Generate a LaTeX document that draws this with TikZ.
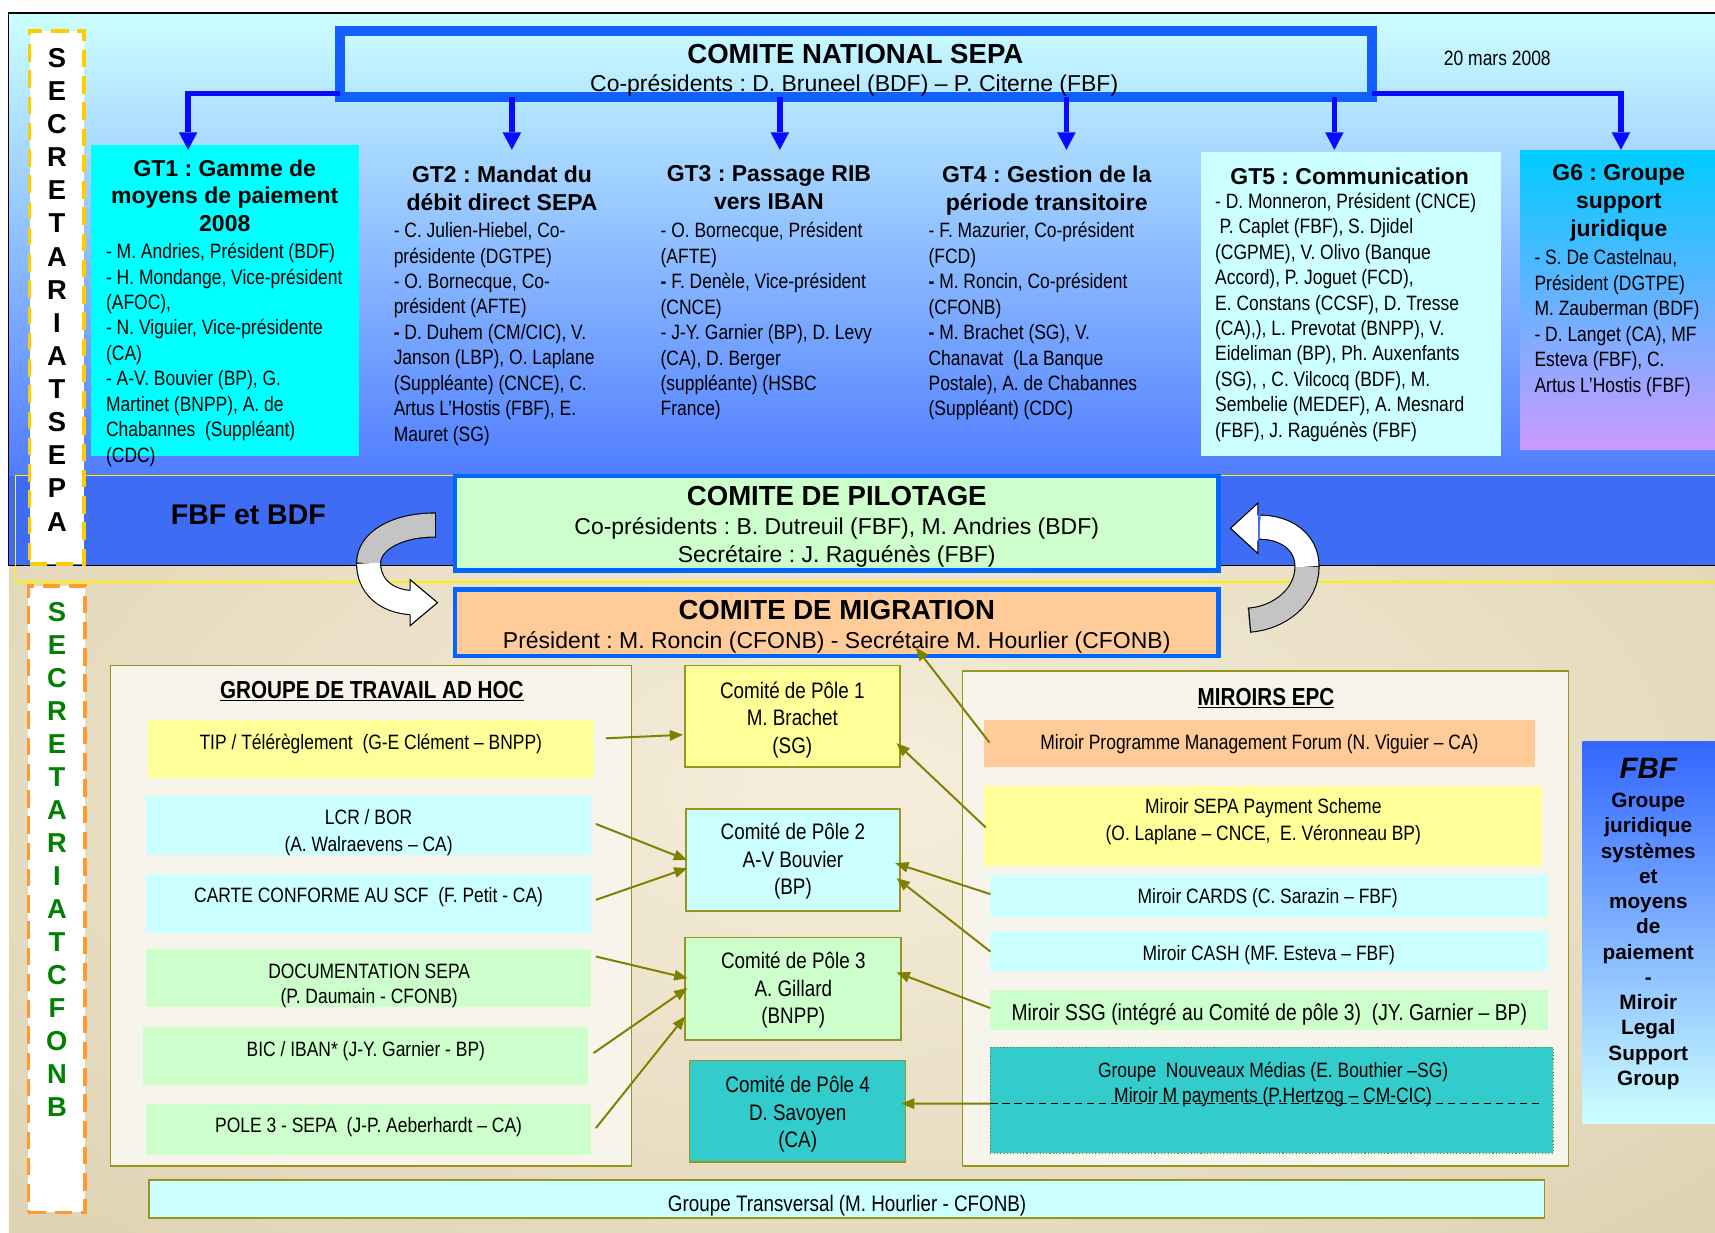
\documentclass[tikz,border=0pt]{standalone}
\usepackage{fontspec}
\setmainfont{Liberation Sans}
\newfontfamily\nar[FakeStretch=0.84]{Liberation Sans}
\usetikzlibrary{arrows.meta,calc}
\newcommand\fs[2]{\fontsize{#1}{#2}\selectfont}
\definecolor{cnsblue}{RGB}{20,95,255}
\definecolor{conblue}{RGB}{10,10,255}
\definecolor{pilblue}{RGB}{0,102,255}
\definecolor{cyanA}{RGB}{0,255,255}
\definecolor{lcyan}{RGB}{204,255,255}
\definecolor{lgreen}{RGB}{204,255,204}
\definecolor{peach}{RGB}{255,204,153}
\definecolor{lyellow}{RGB}{255,255,153}
\definecolor{teal2}{RGB}{51,204,204}
\definecolor{oliveb}{RGB}{150,150,30}
\definecolor{olivea}{RGB}{128,128,0}
\definecolor{tan1}{RGB}{212,199,160}
\definecolor{cream1}{RGB}{246,238,220}
\definecolor{skyA}{RGB}{204,255,255}
\definecolor{skyB}{RGB}{160,205,255}
\definecolor{skyC}{RGB}{80,125,255}
\definecolor{bandblue}{RGB}{62,108,245}
\definecolor{secyel}{RGB}{255,204,0}
\definecolor{secor}{RGB}{255,153,51}
\definecolor{secgreen}{RGB}{0,128,0}
\definecolor{arrgray}{RGB}{196,196,196}
\definecolor{g6top}{RGB}{0,204,255}
\definecolor{g6mid}{RGB}{160,195,255}
\definecolor{g6bot}{RGB}{204,153,255}
\definecolor{fbftop}{RGB}{51,102,255}
\definecolor{fbfmid}{RGB}{140,180,255}
\definecolor{fbfbot}{RGB}{204,255,255}
\definecolor{contfill}{RGB}{247,244,236}
\begin{document}
\frenchspacing
\begin{tikzpicture}[x=1pt,y=-1pt,
  T/.style={inner sep=0pt,outer sep=0pt,yshift=-3pt,execute at begin node=\strut,execute at end node=\strut},
  plain/.style={rectangle,inner sep=0pt,outer sep=0pt},
  bodyt/.style={T,anchor=north west,align=left,font=\nar\fs{19}{23.25}},
  gtt/.style={T,anchor=north,align=center,font=\bfseries\fs{21}{25.5}},
  n19/.style={inner sep=0pt,outer sep=0pt,anchor=base,font=\nar\fs{19}{23}},
  n21/.style={inner sep=0pt,outer sep=0pt,anchor=base,font=\fs{21}{25}},
  bigb/.style={inner sep=0pt,outer sep=0pt,anchor=base,font=\bfseries\fs{25.2}{30}},
  seca/.style={inner sep=0pt,outer sep=0pt,anchor=base,font=\bfseries\fs{25}{30}},
  olbox/.style={plain,draw=oliveb,line width=1.5pt},
  poletxt/.style={T,anchor=north,align=center,font=\nar\fs{20.5}{25.2}},
  bluearr/.style={draw=conblue,line width=5pt,-{Triangle[width=17pt,length=16pt,line width=0pt]}},
  oarr/.style={draw=olivea,line width=1.8pt,-{Triangle[width=10pt,length=12pt,line width=0pt]}},
  ctitle/.style={inner sep=0pt,outer sep=0pt,anchor=base,font=\nar\bfseries\fs{22.5}{27}}
]
\useasboundingbox (0,0) rectangle (1568,1127);

% ---------- backgrounds
\shade[top color=skyA, middle color=skyB, bottom color=skyC] (8,12) rectangle (1568,435);
\fill[bandblue] (8,435) rectangle (1568,517);
\begin{scope}
\clip (8,517) rectangle (1568,1127);
\shade[inner color=cream1, outer color=tan1] (-772,-79) rectangle (2348,1529);
\end{scope}
\draw[line width=1.2pt] (1568,12) -- (8,12) -- (8,517) -- (1568,517);
\draw[yellow, line width=1.3pt] (14,435) rectangle (1575,532);

% ---------- secretariat columns
\node[plain, fill=white, draw=secyel, line width=3.5pt, dash pattern=on 16pt off 8pt, minimum width=50pt, minimum height=487.7pt] (secA) at (52,271.85) {};
\foreach \l [count=\i from 0] in {S,E,C,R,E,T,A,R,I,A,T,S,E,P,A}
  \node[seca] (sa\i) at (52,{61.4+30.3*\i}) {\l};
\node[plain, fill=white, draw=secor, line width=3.5pt, dash pattern=on 16pt off 8pt, minimum width=52pt, minimum height=573pt] (secB) at (52,822) {};
\foreach \l [count=\i from 0] in {S,E,C,R,E,T,A,R,I,A,T,C,F,O,N,B}
  \node[seca, text=secgreen] (sb\i) at (52,{568+30.17*\i}) {\l};

% ---------- comite national
\node[plain, draw=cnsblue, line width=9pt, minimum width=943.5pt, minimum height=60.4pt] (cns) at (782.25,58.2) {};
\node[bigb] (cnst) at (782,58.1) {COMITE NATIONAL SEPA};
\node[n21] (cnss) at (781,83.5) {Co-présidents : D. Bruneel (BDF) – P. Citerne (FBF)};
\node[n19] (date) at (1369,59.8) {20 mars 2008};

% ---------- GT boxes
\node[plain, fill=cyanA, minimum width=245pt, minimum height=284pt] (gt1) at (205.5,275) {};
\node[plain, minimum width=200pt, minimum height=270pt, anchor=north] (gt2) at (468,137) {};
\node[plain, minimum width=200pt, minimum height=270pt, anchor=north] (gt3) at (713,137) {};
\node[plain, minimum width=200pt, minimum height=270pt, anchor=north] (gt4) at (975,137) {};
\node[plain, fill=lcyan, minimum width=274pt, minimum height=278pt] (gt5) at (1235,278) {};
\node[plain, top color=g6top, middle color=g6mid, bottom color=g6bot, minimum width=178pt, minimum height=273pt] (gt6) at (1479,274.5) {};

\coordinate (g1in) at ($(gt1.north west)+(89,4)$);
\coordinate (g5in) at ($(gt5.north)+(-15,-2)$);
\coordinate (g6in) at ($(gt6.north)+(3,-1)$);
\draw[bluearr] ($(cns.south west)+(0,-2.9)$) -| (g1in);
\draw[bluearr] ($(cns.south east)+(0,-2.9)$) -| (g6in);
\draw[bluearr] (cns.south -| gt2.north) -- (gt2.north);
\draw[bluearr] (cns.south -| gt3.north) -- (gt3.north);
\draw[bluearr] (cns.south -| gt4.north) -- (gt4.north);
\draw[bluearr] (cns.south -| g5in) -- (g5in);

\node[gtt] (gt1t) at (205.5,142.7) {GT1 : Gamme de\\moyens de paiement\\2008};
\node[bodyt] (gt1b) at (97,219.5) {- M. Andries, Président (BDF)\\- H. Mondange, Vice-président\\(AFOC),\\- N. Viguier, Vice-présidente\\(CA)\\- A-V. Bouvier (BP), G.\\Martinet (BNPP), A. de\\Chabannes\ \ (Suppléant)\\(CDC)};
\node[gtt] (gt2t) at (459,148.7) {GT2 : Mandat du\\débit direct SEPA};
\node[bodyt] (gt2b) at (360,200.5) {- C. Julien-Hiebel, Co-\\présidente (DGTPE)\\- O. Bornecque, Co-\\président (AFTE)\\\textbf{-} D. Duhem (CM/CIC), V.\\Janson (LBP), O. Laplane\\(Suppléante) (CNCE), C.\\Artus L’Hostis (FBF), E.\\Mauret (SG)};
\node[gtt] (gt3t) at (703,148.7) {GT3 : Passage RIB\\vers IBAN};
\node[bodyt] (gt3b) at (604,200.5) {- O. Bornecque, Président\\(AFTE)\\\textbf{-} F. Denèle, Vice-président\\(CNCE)\\- J-Y. Garnier (BP), D. Levy\\(CA), D. Berger\\(suppléante) (HSBC\\France)};
\node[gtt] (gt4t) at (957,148.7) {GT4 : Gestion de la\\période transitoire};
\node[bodyt] (gt4b) at (849,200.5) {- F. Mazurier, Co-président\\(FCD)\\\textbf{-} M. Roncin, Co-président\\(CFONB)\\\textbf{-} M. Brachet (SG), V.\\Chanavat\ \ (La Banque\\Postale), A. de Chabannes\\(Suppléant) (CDC)};
\node[gtt] (gt5t) at (1234,147.7) {GT5 : Communication};
\node[bodyt] (gt5b) at (1111,173.5) {- D. Monneron, Président (CNCE)\\\hspace*{4pt}P. Caplet (FBF), S. Djidel\\(CGPME), V. Olivo (Banque\\Accord), P. Joguet (FCD),\\E. Constans (CCSF), D. Tresse\\(CA),), L. Prevotat (BNPP), V.\\Eideliman (BP), Ph. Auxenfants\\(SG), , C. Vilcocq (BDF), M.\\Sembelie (MEDEF), A. Mesnard\\(FBF), J. Raguénès (FBF)};
\node[gtt] (gt6t) at (1480,147.7) {G6 : Groupe\\support\\juridique};
\node[bodyt] (gt6b) at (1403,225.5) {- S. De Castelnau,\\Président (DGTPE)\\M. Zauberman (BDF)\\- D. Langet (CA), MF\\Esteva (FBF), C.\\Artus L’Hostis (FBF)};

% ---------- pilotage / migration
\node[inner sep=0pt,outer sep=0pt,anchor=base,font=\bfseries\fs{26}{31}] (fbfbdf) at (227,479.3) {FBF et BDF};
\node[plain, fill=lgreen, draw=pilblue, line width=4pt, minimum width=698pt, minimum height=86.5pt] (pil) at (765,478.25) {};
\node[plain, fill=peach, draw=pilblue, line width=4pt, minimum width=698pt, minimum height=61pt] (mig) at (765,569.5) {};
\node[bigb] (pilt) at (765,462) {COMITE DE PILOTAGE};
\node[n21] (pil1) at (765,488.5) {Co-présidents : B. Dutreuil (FBF), M. Andries (BDF)};
\node[n21] (pil2) at (765,514.5) {Secrétaire : J. Raguénès (FBF)};
\node[bigb] (migt) at (765,566) {COMITE DE MIGRATION};
\node[n21] (mig1) at (765,592.5) {Président : M. Roncin (CFONB) - Secrétaire M. Hourlier (CFONB)};

% ---------- curved arrows
\draw[line width=23pt] (398,480) .. controls (362,480) and (337,495) .. (337,515) .. controls (337,535) and (352,550) .. (377,551);
\draw[line width=21pt, arrgray] (398,480) .. controls (362,480) and (337,495) .. (337,515);
\draw[line width=21pt, white] (337,515) .. controls (337,535) and (352,550) .. (377,551);
\draw[line width=1pt] (398,468.5) -- (398,491.5);
\fill[white] (375,530) -- (400,551) -- (375,572) -- cycle;
\draw[line width=1pt, line join=miter] (375,540) -- (375,530) -- (400,551) -- (375,572) -- (375,562);

\draw[line width=23pt] (1142,567) .. controls (1170,565) and (1195,545) .. (1195,518) .. controls (1195,495) and (1175,482) .. (1152,482);
\draw[line width=21pt, arrgray] (1142,567) .. controls (1170,565) and (1195,545) .. (1195,518);
\draw[line width=21pt, white] (1195,518) .. controls (1195,495) and (1175,482) .. (1152,482);
\draw[line width=1pt] (1141.5,555.5) -- (1143.5,578.5);
\fill[white] (1150,460) -- (1125,483) -- (1150,506) -- cycle;
\draw[line width=1pt, line join=miter] (1150,471) -- (1150,460) -- (1125,483) -- (1150,506) -- (1150,494);

% ---------- lower containers
\node[olbox, fill=contfill, minimum width=476.5pt, minimum height=457.5pt] (adhoc) at (339.25,837.25) {};
\node[olbox, fill=contfill, minimum width=554pt, minimum height=452.5pt] (mir) at (1157,839.75) {};
\node[ctitle] (adhoct) at (340,638.8) {\underline{GROUPE DE TRAVAIL AD HOC}};
\node[ctitle] (mirt) at (1157.5,645) {\underline{MIROIRS EPC}};

% ad hoc boxes
\node[plain, fill=lyellow, minimum width=407.2pt, minimum height=53.4pt] (tip) at (339.1,684.7) {};
\node[plain, fill=lcyan, minimum width=407.2pt, minimum height=54.4pt] (lcr) at (337.1,754.8) {};
\node[plain, fill=lcyan, minimum width=407.2pt, minimum height=53.6pt] (carte) at (337.1,825.8) {};
\node[plain, fill=lgreen, minimum width=407.2pt, minimum height=53.5pt] (doc) at (337.1,894.25) {};
\node[plain, fill=lgreen, minimum width=407.2pt, minimum height=53.6pt] (bic) at (334.2,965.6) {};
\node[plain, fill=lgreen, minimum width=407.2pt, minimum height=47.4pt] (pol3) at (337.1,1032.7) {};
\node[n19] (tipt) at (339,684.8) {TIP / Télérèglement\ \ (G-E Clément – BNPP)};
\node[T, anchor=north, align=center, font=\nar\fs{19}{24.2}] (lcrt) at (337,737.3) {LCR / BOR\\(A. Walraevens – CA)};
\node[n19] (cartet) at (337,825.5) {CARTE CONFORME AU SCF\ \ (F. Petit - CA)};
\node[T, anchor=north, align=center, font=\nar\fs{19}{22.7}] (doct) at (337.5,878.2) {DOCUMENTATION SEPA\\(P. Daumain - CFONB)};
\node[n19] (bict) at (334.5,965.7) {BIC / IBAN* (J-Y. Garnier - BP)};
\node[n19] (pol3t) at (337,1035.4) {POLE 3 - SEPA\ \ (J-P. Aeberhardt – CA)};

% pole boxes
\node[olbox, fill=lyellow, minimum width=196.7pt, minimum height=92.8pt] (p1) at (724.35,654.9) {};
\node[olbox, fill=lcyan, minimum width=196pt, minimum height=93pt] (p2) at (725,786.2) {};
\node[olbox, fill=lgreen, minimum width=197.5pt, minimum height=93.7pt] (p3) at (725.25,903.85) {};
\node[olbox, fill=teal2, minimum width=197.5pt, minimum height=92.9pt] (p4) at (729.25,1016.05) {};
\node[poletxt] (p1t) at (724.4,620.4) {Comité de Pôle 1\\M. Brachet\\(SG)};
\node[poletxt] (p2t) at (725,749.7) {Comité de Pôle 2\\A-V Bouvier\\(BP)};
\node[poletxt] (p3t) at (725.3,867.7) {Comité de Pôle 3\\A. Gillard\\(BNPP)};
\node[poletxt] (p4t) at (729.3,980.7) {Comité de Pôle 4\\D. Savoyen\\(CA)};

% miroirs boxes
\node[plain, fill=peach, minimum width=504.2pt, minimum height=42.8pt] (pmf) at (1151.6,679.4) {};
\node[plain, fill=lyellow, minimum width=510pt, minimum height=73.5pt] (sps) at (1155,755.25) {};
\node[plain, fill=lcyan, minimum width=509.5pt, minimum height=38.5pt] (cards) at (1160.25,819.25) {};
\node[plain, fill=lcyan, minimum width=509.5pt, minimum height=36.4pt] (cash) at (1160.25,869.8) {};
\node[plain, fill=lgreen, minimum width=509.5pt, minimum height=37pt] (ssg) at (1160.25,923.5) {};
\node[plain, fill=teal2, draw=olivea, dotted, line width=1pt, minimum width=514.5pt, minimum height=96.9pt] (nm) at (1162.75,1005.75) {};
\node[n19] (pmft) at (1151.5,685.3) {Miroir Programme Management Forum (N. Viguier – CA)};
\node[T, anchor=north, align=center, font=\nar\fs{19}{24.3}] (spst) at (1155,727.2) {Miroir SEPA Payment Scheme\\(O. Laplane – CNCE,\ \ E. Véronneau BP)};
\node[n19] (cardst) at (1159,826.4) {Miroir CARDS (C. Sarazin – FBF)};
\node[n19] (casht) at (1160,878.2) {Miroir CASH (MF. Esteva – FBF)};
\node[inner sep=0pt,outer sep=0pt,anchor=base,font=\nar\fs{21}{25}] (ssgt) at (1160.5,932.8) {Miroir SSG (intégré au Comité de pôle 3)\ \ (JY. Garnier – BP)};
\node[T, anchor=north, align=center, font=\nar\fs{19}{23.6}] (nmt) at (1164,967.7) {Groupe\ \ Nouveaux Médias (E. Bouthier –SG)\\Miroir M payments (P.Hertzog – CM-CIC)};
\draw[dash pattern=on 7pt off 4pt, line width=0.9pt] ($(nm.west)+(0,3.25)$) -- ($(nm.east)+(-10,3.25)$);

% FBF box
\node[plain, top color=fbftop, middle color=fbfmid, bottom color=fbfbot, minimum width=121pt, minimum height=349pt] (fbf) at (1507.5,852.5) {};
\node[inner sep=0pt,outer sep=0pt,anchor=base,font=\bfseries\itshape\fs{27}{32}] (fbft) at (1507,711.7) {FBF};
\node[T, anchor=north, align=center, font=\bfseries\fs{19}{23.09}] (fbfb) at (1507,722.1) {Groupe\\juridique\\systèmes\\et\\moyens\\de\\paiement\\-\\Miroir\\Legal\\Support\\Group};

% groupe transversal
\node[olbox, fill=lcyan, minimum width=1276pt, minimum height=34.7pt] (gtr) at (774,1096.35) {};
\node[inner sep=0pt,outer sep=0pt,anchor=base,font=\nar\fs{20.5}{25}] (gtrt) at (774.5,1107.8) {Groupe Transversal (M. Hourlier - CFONB)};

% ---------- olive connectors
\draw[oarr] ($(tip.east)+(11.3,-9.7)$) -- ($(p1.west)+(-1.6,16.9)$);
\draw[oarr] ($(lcr.east)+(4.1,-1.5)$) -- ($(p2.west)+(1,0)$);
\draw[oarr] ($(carte.east)+(4.1,-3.1)$) -- ($(p2.west)+(1.4,7.5)$);
\draw[oarr] ($(doc.east)+(4.1,-19.75)$) -- ($(p3.west)+(1.9,-9.5)$);
\draw[oarr] ($(bic.east)+(4.9,-2.8)$) -- ($(p3.west)+(1.9,-0.45)$);
\draw[oarr] ($(pol3.east)+(4.1,-1.3)$) -- ($(p3.west)+(-0.1,25.45)$);
\draw[oarr] ($(pmf.west)+(5.2,-0.5)$) -- ($(mig.south)+(72.3,-8)$);
\draw[oarr] ($(sps.west)+(1.3,1.35)$) -- ($(p1.east)+(-2.9,24.6)$);
\draw[oarr] ($(cards.west)+(0,-1.75)$) -- ($(p2.east)+(-4.4,3)$);
\draw[oarr] ($(cash.west)+(0,0.2)$) -- ($(p2.east)+(-3.2,16.7)$);
\draw[oarr] ($(ssg.west)+(0,-1.8)$) -- ($(p3.east)+(-4.2,-14.75)$);
\draw[oarr] ($(nm.west)+(0,3.25)$) -- ($(p4.east)+(-4,-7)$);
\end{tikzpicture}
\end{document}
